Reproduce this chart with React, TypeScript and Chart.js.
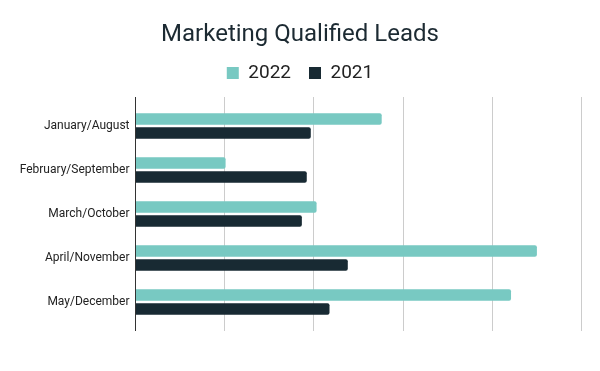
import React, { useEffect, useRef } from "react";
import { Chart, registerables } from "chart.js";

Chart.register(...registerables);

const categories = [
  "January/August",
  "February/September",
  "March/October",
  "April/November",
  "May/December",
];
const series2022 = [55.2, 20.2, 40.6, 90.0, 84.2];
const series2021 = [39.3, 38.4, 37.3, 47.6, 43.5];
const xTicks = [0, 20, 40, 60, 80, 100];

const TEAL = "#78c9c2";
const DARK = "#182a33";

export default function App() {
  const ref = useRef<HTMLCanvasElement | null>(null);

  useEffect(() => {
    document.body.style.margin = "0";
    if (!ref.current) return;
    const gridColor = (ctx: any) =>
      ctx.tick && ctx.tick.value === 0 ? "#333333" : "#cccccc";
    const chart = new Chart(ref.current, {
      type: "bar",
      data: {
        labels: categories,
        datasets: [
          {
            label: "2022",
            data: series2022,
            backgroundColor: TEAL,
            borderWidth: 0,
            borderRadius: 2,
            categoryPercentage: 0.63,
            barPercentage: 0.83,
          },
          {
            label: "2021",
            data: series2021,
            backgroundColor: DARK,
            borderWidth: 0,
            borderRadius: 2,
            categoryPercentage: 0.63,
            barPercentage: 0.83,
          },
        ],
      },
      options: {
        indexAxis: "y",
        animation: false,
        responsive: false,
        maintainAspectRatio: false,
        layout: { padding: { left: 18.5, right: 18.5, top: 0, bottom: 40 } },
        plugins: {
          title: {
            display: true,
            text: "Marketing Qualified Leads",
            color: "#1c2a32",
            font: { family: "Roboto", size: 24, weight: "normal", lineHeight: 0.875 },
            padding: { top: 24.5, bottom: 0 },
          },
          legend: {
            display: true,
            position: "top",
            labels: {
              boxWidth: 12,
              boxHeight: 12,
              padding: 18,
              color: "#222222",
              font: { family: "Roboto", size: 19 },
            },
          },
          tooltip: { enabled: false },
        },
        scales: {
          x: {
            type: "linear",
            position: "bottom",
            min: xTicks[0],
            max: xTicks[xTicks.length - 1],
            afterBuildTicks: (scale: any) => {
              scale.ticks = xTicks.map((v) => ({ value: v }));
            },
            ticks: { display: false },
            border: { display: false },
            grid: {
              color: gridColor,
              tickColor: gridColor,
              drawTicks: true,
              tickLength: 7,
              lineWidth: 1,
            },
          },
          x2: {
            type: "linear",
            position: "top",
            min: xTicks[0],
            max: xTicks[xTicks.length - 1],
            afterBuildTicks: (scale: any) => {
              scale.ticks = xTicks.map((v) => ({ value: v }));
            },
            ticks: { display: false },
            border: { display: false },
            title: {
              display: true,
              text: " ",
              padding: 0,
              font: { family: "Roboto", size: 4.5, lineHeight: 1 },
            },
            grid: {
              color: gridColor,
              tickColor: gridColor,
              drawOnChartArea: false,
              drawTicks: true,
              tickLength: 7,
              lineWidth: 1,
            },
          },
          y: {
            type: "category",
            grid: { display: false, drawTicks: false },
            border: { display: false },
            afterFit: (scale: any) => {
              scale.width = 117;
            },
            ticks: {
              padding: 6,
              color: "#222222",
              font: { family: "Roboto", size: 12 },
            },
          },
        },
      },
    });
    return () => chart.destroy();
  }, []);

  return (
    <div style={{ width: 600, height: 371 }}>
      <canvas ref={ref} width={600} height={371} style={{ display: "block" }} />
    </div>
  );
}
